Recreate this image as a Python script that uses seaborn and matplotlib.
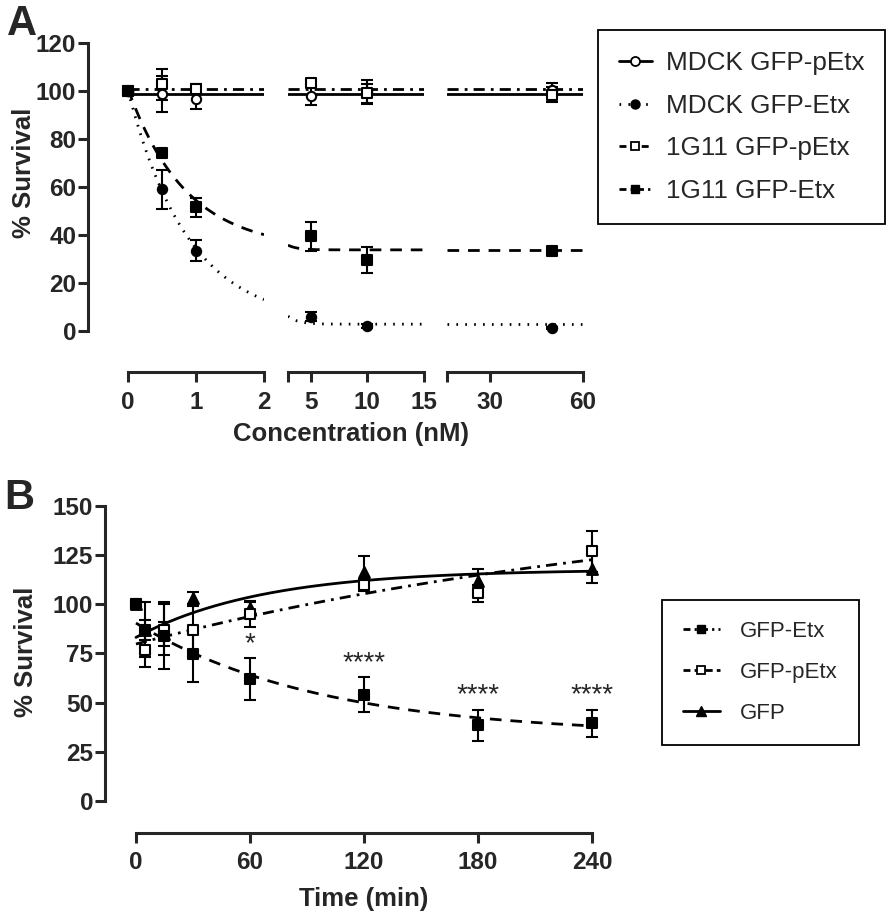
import numpy as np
import matplotlib
matplotlib.use("Agg")
import matplotlib.pyplot as plt
import seaborn as sns
from matplotlib.lines import Line2D

# panel A: % survival vs concentration (nM)
conc = [0, 0.5, 1, 5, 10, 50]
mdck_pEtx = [100, 98.6, 96.5, 98, 99.7, 100.4]
mdck_pEtx_err = [0, 7.5, 4, 4, 5, 3]
mdck_Etx = [100, 59, 33.5, 6, 2, 1.2]
mdck_Etx_err = [0, 8, 4.5, 2, 0.8, 0.5]
g11_pEtx = [100, 102.8, 101, 103.5, 99, 98.5]
g11_pEtx_err = [0, 6.5, 2, 1.5, 4, 3]
g11_Etx = [100, 74, 51.5, 39.5, 29.5, 33.3]
g11_Etx_err = [0, 1.5, 4, 6, 5.5, 1]
a_labels = ["MDCK GFP-pEtx", "MDCK GFP-Etx", "1G11 GFP-pEtx", "1G11 GFP-Etx"]

# broken x axis segments
seg_lims = [(-0.59, 2), (3, 15), (16, 60)]
seg_ticks = [[0, 1, 2], [3, 5, 10, 15], [16, 30, 60]]
seg_ticklabels = [["0", "1", "2"], ["", "5", "10", "15"], ["", "30", "60"]]

# panel B: % survival vs time (min)
time_min = [0, 5, 15, 30, 60, 120, 180, 240]
b_Etx = [100, 87, 84, 74.5, 62, 54, 38.5, 39.5]
b_Etx_err = [0, 14, 17, 14, 10.5, 9, 8, 7]
b_pEtx = [100, 77, 87, 87, 95, 110, 105.5, 127]
b_pEtx_err = [0, 9, 13, 12, 6.5, 3, 4.5, 10.5]
b_gfp = [100, 87, 85, 103, 98, 116.5, 112, 118]
b_gfp_err = [0, 5, 6, 3, 3, 8, 6, 7]
b_stars = ["", "", "", "", "*", "****", "****", "****"]
b_labels = ["GFP-Etx", "GFP-pEtx", "GFP"]


def fit_exp(x, y, ks):
    # one-phase exponential, grid over k + linear least squares
    x = np.asarray(x, float)
    y = np.asarray(y, float)
    best = None
    for k in ks:
        A = np.column_stack([np.ones_like(x), np.exp(-k * x)])
        coef = np.linalg.lstsq(A, y, rcond=None)[0]
        sse = np.sum((A @ coef - y) ** 2)
        if best is None or sse < best[0]:
            best = (sse, k, coef)
    _, k, (p, s) = best
    return lambda t: p + s * np.exp(-k * t)


def fit_const(y):
    m = np.mean(y)
    return lambda t: np.full_like(t, m, dtype=float)


sns.set_theme(style="ticks")
plt.rcParams["font.family"] = ["Liberation Sans", "DejaVu Sans"]
plt.rcParams["axes.linewidth"] = 2.2

DOT = (0, (0.6, 2.6))
DASH = (0, (4.2, 3.2))
DASHDOT = (0, (4, 2.2, 1, 2.2))


def draw_series(ax, x, y, err, curve, t, ls, marker, fc, s):
    sns.lineplot(x=t, y=curve(t), ax=ax, color="black", lw=2, linestyle=ls, zorder=2)
    x = np.asarray(x)
    y = np.asarray(y)
    err = np.asarray(err)
    m = err > 0
    ax.errorbar(x[m], y[m], yerr=err[m], fmt="none", ecolor="black",
                elinewidth=1.5, capsize=4.5, capthick=1.5, zorder=3)
    sns.scatterplot(x=x, y=y, ax=ax, marker=marker, s=s, color=fc,
                    edgecolor="black", linewidth=1.5, zorder=4)


def style_axis(ax):
    sns.despine(ax=ax)
    ax.tick_params(direction="out", length=7, width=2.2, labelsize=17.5)
    ax.tick_params(axis="x", pad=6.5)
    ax.tick_params(axis="y", pad=1.5)
    for lab in ax.get_xticklabels() + ax.get_yticklabels():
        lab.set_fontweight("bold")


fig = plt.figure(figsize=(8.92, 9.19), dpi=100)
W, H = 892, 919


def px_axes(left, top, right, bottom):
    return fig.add_axes([left / W, 1 - bottom / H, (right - left) / W, (bottom - top) / H])


# ---- panel A ----
seg_px = [(88, 264), (288, 424), (447, 583)]
fits_a = [
    fit_const(mdck_pEtx),
    fit_exp(conc, mdck_Etx, np.geomspace(0.05, 5, 600)),
    fit_const(g11_pEtx),
    fit_exp(conc, g11_Etx, np.geomspace(0.05, 5, 600)),
]
series_a = [
    (mdck_pEtx, mdck_pEtx_err, "-", "o", "white", 45),
    (mdck_Etx, mdck_Etx_err, DOT, "o", "black", 45),
    (g11_pEtx, g11_pEtx_err, DASHDOT, "s", "white", 42),
    (g11_Etx, g11_Etx_err, DASH, "s", "black", 42),
]
axes_a = []
for i, ((l, r), lim) in enumerate(zip(seg_px, seg_lims)):
    ax = px_axes(l, 38.2, r, 371.8)
    t = np.linspace(max(lim[0], 0), lim[1], 300)
    for (y, e, ls, mk, fc, s), f in zip(series_a, fits_a):
        draw_series(ax, conc, y, e, f, t, ls, mk, fc, s)
    ax.set_xlim(*lim)
    ax.set_ylim(-17, 122)
    ax.set_yticks(np.arange(0, 121, 20))
    ax.set_xticks(seg_ticks[i])
    ax.set_xticklabels(seg_ticklabels[i])
    ax.spines["bottom"].set_bounds(max(lim[0], 0), lim[1])
    ax.spines["left"].set_bounds(0, 120)
    ax.set_xlabel("")
    ax.set_ylabel("")
    style_axis(ax)
    if i > 0:
        ax.spines["left"].set_visible(False)
        ax.tick_params(axis="y", left=False, labelleft=False)
    ax.patch.set_alpha(0)
    axes_a.append(ax)

axes_a[0].set_ylabel("% Survival", fontsize=18.5, fontweight="bold")
axes_a[0].yaxis.set_label_coords(-0.295, 0.595)
fig.text(351 / W, 1 - 434 / H, "Concentration (nM)", ha="center", va="center",
         fontsize=18.5, fontweight="bold")

handles_a = [
    Line2D([], [], color="black", lw=2, ls="-", marker="o", mfc="white", mec="black", ms=6.5, mew=1.3),
    Line2D([], [], color="black", lw=2, ls=DOT, marker="o", mfc="black", mec="black", ms=6.5),
    Line2D([], [], color="black", lw=2, ls=(0, (2.5, 1.5)), marker="s", mfc="white", mec="black", ms=6, mew=1.3),
    Line2D([], [], color="black", lw=2, ls=(0, (2.5, 1.5, 0.8, 1.5)), marker="s", mfc="black", mec="black", ms=6),
]
leg_a = fig.legend(handles_a, a_labels, loc="upper left", bbox_to_anchor=(598 / W, 1 - 30 / H),
                   fontsize=18.8, frameon=True, fancybox=False, edgecolor="black", framealpha=1,
                   handlelength=1.25, handletextpad=0.55, borderpad=0.8, labelspacing=0.72,
                   borderaxespad=0)
leg_a.get_frame().set_linewidth(1.3)

# ---- panel B ----
axb = px_axes(105, 502, 601.5, 832.5)
t_b = np.linspace(0, 240, 400)
fit_t = time_min[1:]
ks_b = [k for k in np.linspace(-0.01, 0.06, 1401) if abs(k) > 1e-6]
# GFP drawn first so the GFP-Etx squares sit on top
series_b = [
    (b_gfp, b_gfp_err, "-", "^", "black", 60),
    (b_pEtx, b_pEtx_err, DASHDOT, "s", "white", 55),
    (b_Etx, b_Etx_err, DASH, "s", "black", 55),
]
for y, e, ls, mk, fc, s in series_b:
    f = fit_exp(fit_t, y[1:], ks_b)
    draw_series(axb, time_min, y, e, f, t_b, ls, mk, fc, s)

for x, y, e, st in zip(time_min, b_Etx, b_Etx_err, b_stars):
    if st:
        axb.text(x, y + e + 0.5, st, ha="center", va="bottom", fontsize=20)

axb.set_xlim(-16.3, 245)
axb.set_ylim(-16, 152)
axb.set_xticks([0, 60, 120, 180, 240])
axb.set_yticks(np.arange(0, 151, 25))
axb.spines["bottom"].set_bounds(0, 240)
axb.spines["left"].set_bounds(0, 150)
axb.set_xlabel("Time (min)", fontsize=18.5, fontweight="bold")
axb.set_ylabel("% Survival", fontsize=18.5, fontweight="bold")
axb.xaxis.set_label_coords(0.522, -0.165)
axb.yaxis.set_label_coords(-0.135, 0.546)
style_axis(axb)
axb.patch.set_alpha(0)

handles_b = [
    Line2D([], [], color="black", lw=2, ls=(0, (2.5, 1.5, 0.8, 1.5)), marker="s", mfc="black", mec="black", ms=6),
    Line2D([], [], color="black", lw=2, ls=(0, (2.5, 1.5)), marker="s", mfc="white", mec="black", ms=6, mew=1.3),
    Line2D([], [], color="black", lw=2, ls="-", marker="^", mfc="black", mec="black", ms=6.5),
]
leg_b = fig.legend(handles_b, b_labels, loc="upper left", bbox_to_anchor=(662 / W, 1 - 600 / H),
                   fontsize=16, frameon=True, fancybox=False, edgecolor="black", framealpha=1,
                   handlelength=1.65, handletextpad=0.9, borderpad=0.95, labelspacing=0.9,
                   borderaxespad=0)
leg_b.get_frame().set_linewidth(1.3)

fig.text(7 / W, 1 - 4 / H, "A", ha="left", va="top", fontsize=30, fontweight="bold")
fig.text(4 / W, 1 - 478 / H, "B", ha="left", va="top", fontsize=30, fontweight="bold")

fig.savefig("out.png", dpi=100)
